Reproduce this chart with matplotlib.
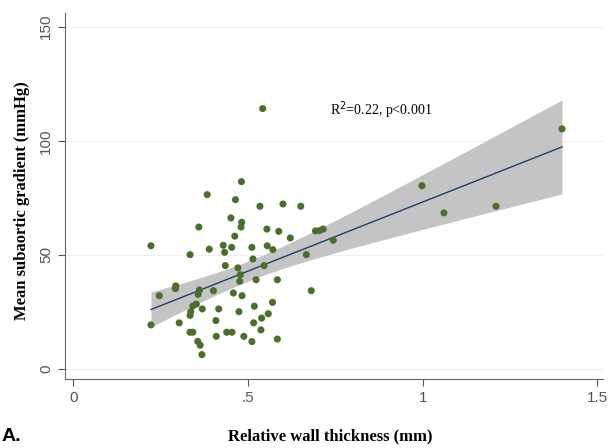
import numpy as np
import matplotlib.pyplot as plt

# values
rwt = [0.481, 0.383, 0.464, 0.534, 0.600, 0.651, 0.451, 0.482, 0.480, 0.359,
       0.554, 0.588, 0.462, 0.621, 0.693, 0.704, 0.715, 0.744, 0.222, 0.429,
       0.453, 0.511, 0.555, 0.571, 0.389, 0.433, 0.334, 0.667, 0.514, 0.435,
       0.546, 0.471, 0.478, 0.476, 0.523, 0.584, 0.293, 0.292, 0.246, 0.361,
       0.357, 0.401, 0.458, 0.483, 0.681, 0.570, 0.518, 0.416, 0.352, 0.342,
       0.369, 0.336, 0.334, 0.474, 0.558, 0.539, 0.222, 0.303, 0.408, 0.516,
       0.537, 0.334, 0.342, 0.439, 0.454, 0.409, 0.488, 0.584, 0.511, 0.356,
       0.363, 0.368, 0.542, 1.399, 0.998, 1.061, 1.210]
gradient = [82.1, 76.4, 74.2, 71.3, 72.3, 71.3, 66.2, 64.3, 62.2, 62.2,
            61.3, 60.3, 58.2, 57.4, 60.5, 60.6, 61.3, 56.4, 54.0, 54.2,
            53.3, 53.3, 54.0, 52.3, 52.5, 51.1, 50.1, 50.1, 48.2, 45.3,
            45.3, 44.3, 41.3, 38.4, 39.1, 39.1, 36.4, 35.2, 32.1, 34.6,
            32.7, 34.3, 33.3, 32.1, 34.3, 29.2, 27.5, 26.3, 28.4, 27.6,
            26.3, 25.1, 23.5, 25.1, 24.2, 22.3, 19.3, 20.2, 21.2, 20.2,
            17.1, 16.1, 16.1, 16.1, 16.1, 14.3, 14.3, 13.1, 12.0, 12.1,
            10.4, 6.3, 114.1, 105.2, 80.3, 68.4, 71.3]
x_ticks = [0, 0.5, 1, 1.5]
x_labels = ['0', '.5', '1', '1.5']
y_ticks = [0, 50, 100, 150]

x = np.array(rwt)
y = np.array(gradient)

# linear fit with 95% confidence band
n = len(x)
b1, b0 = np.polyfit(x, y, 1)
resid = y - (b0 + b1 * x)
s = np.sqrt(np.sum(resid ** 2) / (n - 2))
xs = np.linspace(x.min(), x.max(), 100)
ys = b0 + b1 * xs
se = s * np.sqrt(1 / n + (xs - x.mean()) ** 2 / np.sum((x - x.mean()) ** 2))
t = 1.99

fig = plt.figure(figsize=(6.1, 4.48), dpi=100)
ax = fig.add_axes([0.1066, 0.154, 0.882, 0.817])

for yt in y_ticks:
    ax.axhline(yt, color='#efefef', lw=0.8, zorder=0)

ax.fill_between(xs, ys - t * se, ys + t * se, color='#c4c4c4', lw=0, zorder=1)
ax.plot(xs, ys, color='#1f3f6e', lw=1.0, zorder=2)
ax.scatter(x, y, s=26, color='#4b6e2c', edgecolors='none', zorder=3)

ax.text(0.735, 113.5, r'R$^2$=0.22, p<0.001', family='Liberation Serif',
        fontsize=10, va='center', ha='left')

ax.set_xlim(-0.024, 1.5165)
ax.set_ylim(-4.4, 156)
ax.set_xticks(x_ticks)
ax.set_xticklabels(x_labels)
ax.set_yticks(y_ticks)
ax.set_yticklabels([str(v) for v in y_ticks], rotation=90, va='center')
ax.tick_params(colors='#555555', labelsize=11, length=5, width=0.8)
for lab in ax.get_xticklabels() + ax.get_yticklabels():
    lab.set_family('Liberation Sans')

for side in ['top', 'right']:
    ax.spines[side].set_visible(False)
for side in ['left', 'bottom']:
    ax.spines[side].set_color('#666666')
    ax.spines[side].set_linewidth(0.8)

fig.text(0.541, 0.025, 'Relative wall thickness (mm)', family='Liberation Serif',
         fontweight='bold', fontsize=12, ha='center', va='center')
fig.text(0.036, 0.553, 'Mean subaortic gradient (mmHg)', family='Liberation Serif',
         fontweight='bold', fontsize=12, ha='center', va='center', rotation=90)
fig.text(0.002, 0.006, 'A.', family='Liberation Sans', fontweight='bold',
         fontsize=14, ha='left', va='bottom')

fig.savefig('out.png', dpi=100)
